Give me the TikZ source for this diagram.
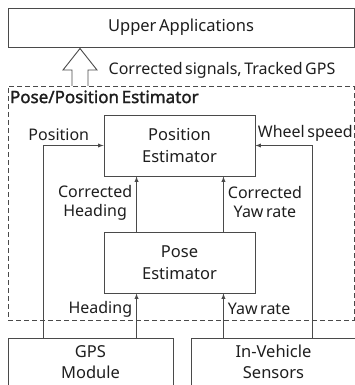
\documentclass[tikz,border=0pt]{standalone}
\usepackage{fontspec}
\setmainfont[WordSpace=0.6, AutoFakeBold=1.6]{Noto Sans}
\usepackage{tikz}
\usetikzlibrary{arrows,positioning}
\definecolor{lgray}{HTML}{4A4A4A}
\definecolor{tgray}{HTML}{1E1E1E}

\begin{document}
\begin{tikzpicture}[x=1pt, y=-1pt,
		>=latex,   %Pfeilspitzen
		line width=0.9pt,
		block/.style={draw=lgray, text=tgray, align=center, inner sep=0pt, font=\fontsize{16.5}{21.5}\selectfont},
		lbl/.style={text=tgray, inner sep=1pt, align=center, font=\fontsize{16}{19}\selectfont},
		sig/.style={->, draw=lgray}]
		%Bildbereich
		\clip (0,0) rectangle (355,385);
		% Kaesten
		\node[block, minimum width=346pt, minimum height=39pt] (app) at (181,27.5) {Upper Applications};
		\node[block, dash pattern=on 5pt off 3pt, minimum width=346pt, minimum height=234pt] (est) at (181,203) {};
		\node[block, minimum width=151pt, minimum height=61pt] (pos) at (179.5,145.5) {Position\\Estimator};
		\node[block, minimum width=151pt, minimum height=61pt] (pose) at (179.5,262.5) {Pose\\Estimator};
		\node[block, minimum width=165pt, minimum height=48pt] (gps) at (90.5,362) {GPS\\Module};
		\node[block, minimum width=165pt, minimum height=48pt] (sens) at (273.5,362) {In-Vehicle\\Sensors};
		% Titel
		\node[lbl, inner sep=0pt, font=\bfseries\fontsize{17}{19}\selectfont, below right=4.5pt and 2pt of est.north west] (ttl) {Pose/Position Estimator};
		% Hilfspunkte
		\coordinate (hx) at ([xshift=33pt]pose.south west);
		\coordinate (yx) at ([xshift=-32pt]pose.south east);
		\coordinate (gx) at ([xshift=36pt]gps.north west);
		\coordinate (wx) at ([xshift=122pt]sens.north west);
		% Signale
		\draw[sig] (gx) |- (pos.west);
		\draw[sig] (wx) |- (pos.east);
		\draw[sig] (hx |- gps.north) -- (hx) node[lbl, pos=0.65, left=3pt] (lh) {Heading};
		\draw[sig] (yx |- sens.north) -- (yx) node[lbl, pos=0.65, right=3pt] (ly) {Yaw rate};
		\draw[sig] (hx |- pose.north) -- (hx |- pos.south) node[lbl, pos=0.53, left=3pt] (lch) {Corrected\\Heading};
		\draw[sig] (yx |- pose.north) -- (yx |- pos.south) node[lbl, pos=0.53, right=3pt] (lcy) {Corrected\\Yaw rate};
		\node[lbl, above left=3pt and 13pt of pos.west] (lp) {Position};
		\node[lbl, above right=3pt and 1pt of pos.east] (lw) {Wheel speed};
		% Hohlpfeil
		\draw[lgray, fill=white] (72,86) -- (72,70) -- (63,70) -- (80,48.5) -- (97,70) -- (88,70) -- (88,86);
		\node[lbl] (lsig) at (222,70) {Corrected signals, Tracked GPS};
	\end{tikzpicture}
\end{document}
